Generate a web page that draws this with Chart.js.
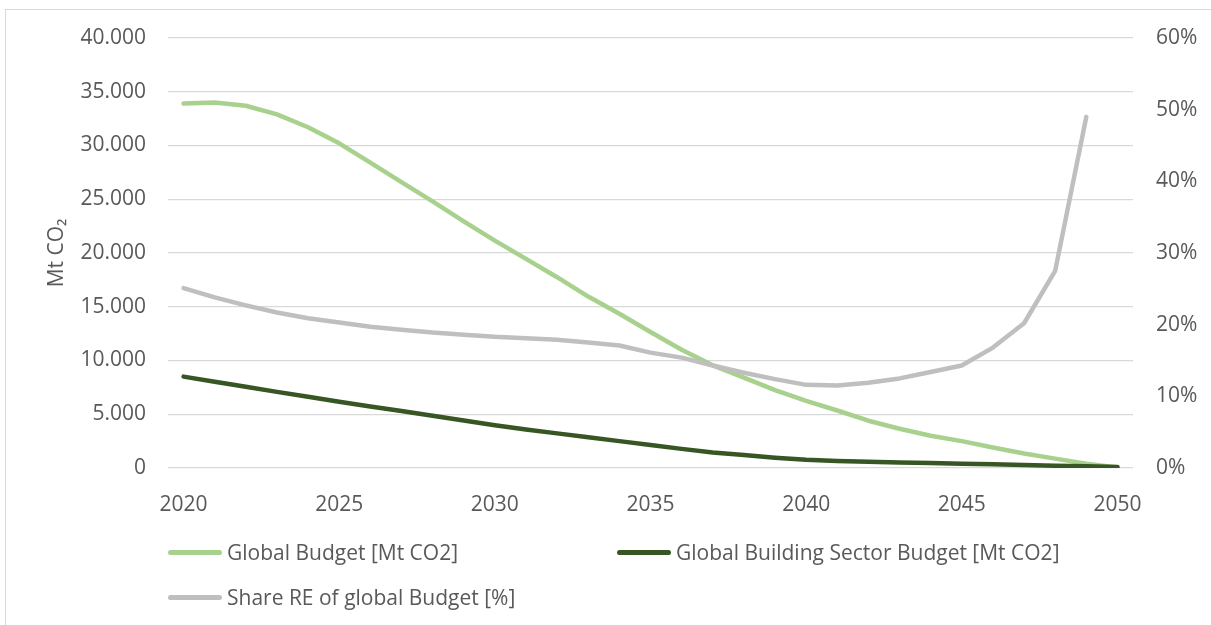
<!DOCTYPE html>
<html>
<head>
<meta charset="utf-8">
<script src="https://cdn.jsdelivr.net/npm/chart.js@4.4.1/dist/chart.umd.min.js"></script>
<style>
  body { margin: 0; background: #fff; overflow: hidden; width: 1211px; height: 625px; position: relative; }
  #frame { position: absolute; left: 5px; top: 9px; width: 1300px; height: 700px; border: 1px solid #d9d9d9; box-sizing: border-box; }
  #chart { position: absolute; left: 0; top: 0; }
  .leg { position: absolute; display: flex; align-items: center; font-family: "Open Sans", sans-serif; font-size: 21px; color: #595959; white-space: nowrap; }
  .leg span.line { display: inline-block; width: 54px; height: 5px; border-radius: 3px; margin-right: 5px; }
</style>
</head>
<body>
<div id="frame"></div>
<canvas id="chart" width="1211" height="625"></canvas>
<script>
// data
const years = [2020, 2021, 2022, 2023, 2024, 2025, 2026, 2027, 2028, 2029, 2030,
  2031, 2032, 2033, 2034, 2035, 2036, 2037, 2038, 2039, 2040,
  2041, 2042, 2043, 2044, 2045, 2046, 2047, 2048, 2049, 2050];

const globalBudget = [33900, 34000, 33700, 32900, 31700, 30200, 28400, 26600, 24800, 22950, 21150,
  19450, 17750, 15950, 14350, 12650, 11000, 9550, 8400, 7250, 6250,
  5350, 4400, 3650, 3000, 2500, 1900, 1350, 870, 400, 50];

const buildingBudget = [8500, 8030, 7560, 7080, 6620, 6170, 5730, 5300, 4860, 4420, 3980,
  3580, 3220, 2860, 2500, 2140, 1780, 1450, 1200, 960, 760,
  650, 580, 520, 460, 400, 340, 280, 220, 160, 100];

const shareRE = [25.1, 23.8, 22.7, 21.7, 20.9, 20.3, 19.7, 19.3, 18.9, 18.6, 18.3,
  18.1, 17.9, 17.5, 17.1, 16.1, 15.4, 14.3, 13.3, 12.4, 11.6,
  11.5, 11.9, 12.5, 13.4, 14.3, 16.8, 20.2, 27.5, 49.0, null];

const seriesNames = ["Global Budget [Mt CO2]", "Global Building Sector Budget [Mt CO2]", "Share RE of global Budget [%]"];
const colors = ["#a9d18e", "#375623", "#bfbfbf"];

const FONT = { family: "'Open Sans', sans-serif", size: 21 };
const TEXT = "#595959";

function fmtDe(v) {
  return String(v).replace(/\B(?=(\d{3})+(?!\d))/g, ".");
}

function lineSet(i, data, axis, order) {
  return {
    label: seriesNames[i],
    data: data,
    yAxisID: axis,
    borderColor: colors[i],
    backgroundColor: colors[i],
    borderWidth: 4.5,
    borderCapStyle: "round",
    borderJoinStyle: "round",
    pointRadius: 0,
    tension: 0,
    order: order,
  };
}

const datasets = [
  lineSet(0, globalBudget, "y", 3),
  lineSet(1, buildingBudget, "y", 2),
  lineSet(2, shareRE, "y1", 1),
];

new Chart(document.getElementById("chart"), {
  type: "line",
  data: { labels: years, datasets: datasets },
  options: {
    responsive: false,
    animation: false,
    layout: { padding: { left: 0, right: 0, top: 38, bottom: 107 } },
    plugins: { legend: { display: false }, tooltip: { enabled: false } },
    scales: {
      x: {
        offset: true,
        grid: { display: false },
        border: { display: false },
        ticks: {
          autoSkip: false,
          maxRotation: 0,
          padding: 16,
          color: TEXT,
          font: FONT,
          callback: function (value) {
            const yr = this.getLabelForValue(value);
            return yr % 5 === 0 ? String(yr) : null;
          },
        },
        afterFit: (s) => { s.height = 50; },
      },
      y: {
        position: "left",
        min: 0,
        max: 40000,
        ticks: { stepSize: 5000, color: TEXT, font: FONT, padding: 22, callback: (v) => fmtDe(v) },
        grid: { color: "#d9d9d9", lineWidth: 1.3, drawTicks: false },
        border: { display: false },
        title: {
          display: true,
          text: "Mt CO₂",
          color: TEXT,
          font: FONT,
          padding: { top: 44, bottom: 0 },
        },
        afterFit: (s) => { s.width = 168; },
      },
      y1: {
        position: "right",
        min: 0,
        max: 60,
        ticks: { stepSize: 10, color: TEXT, font: FONT, padding: 23, callback: (v) => v + "%" },
        grid: { drawOnChartArea: false, drawTicks: false },
        border: { display: false },
        afterFit: (s) => { s.width = 78; },
      },
    },
  },
});

// legend, laid out like the spreadsheet one (two columns)
const legendPos = [[168, 552], [617, 552], [168, 597]];
datasets.forEach((ds, i) => {
  const el = document.createElement("div");
  el.className = "leg";
  el.style.left = legendPos[i][0] + "px";
  el.style.top = (legendPos[i][1] - 15) + "px";
  el.style.height = "30px";
  el.innerHTML = '<span class="line" style="background:' + ds.borderColor + '"></span>' + ds.label;
  document.body.appendChild(el);
});
</script>
</body>
</html>
